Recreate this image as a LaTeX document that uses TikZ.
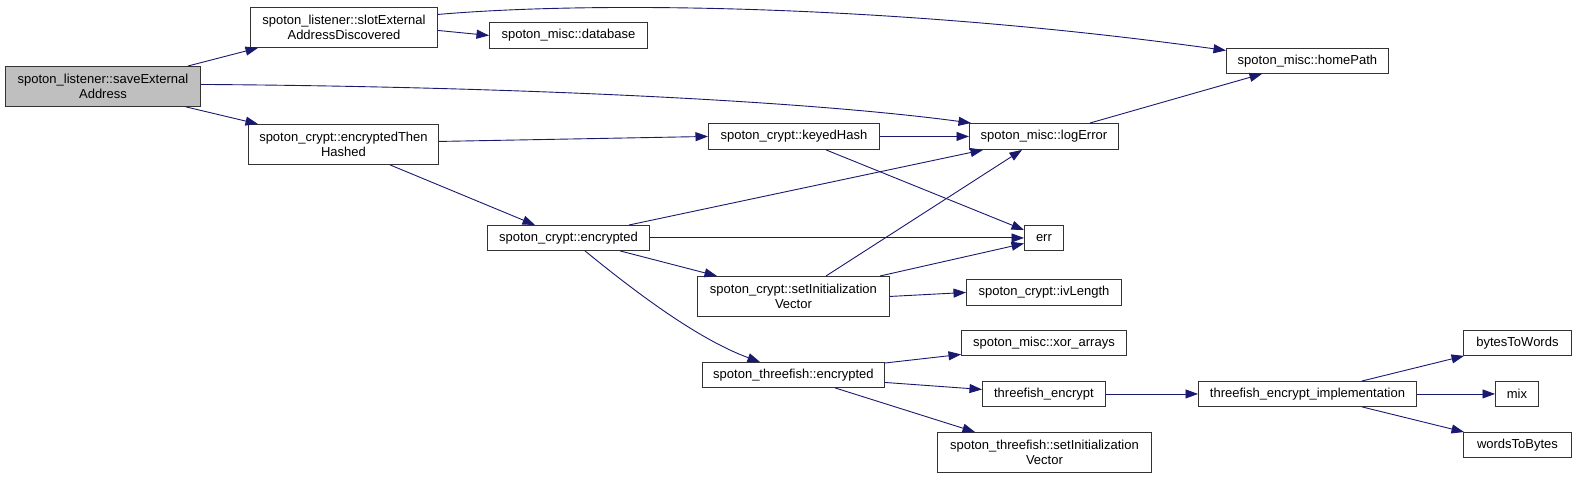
\documentclass[tikz,border=0pt]{standalone}
\usepackage{fontspec}
\setmainfont{Liberation Sans}
\usetikzlibrary{arrows.meta}
\definecolor{edgec}{HTML}{191970}
\definecolor{graybox}{HTML}{BFBFBF}
\begin{document}
\begin{tikzpicture}[x=1pt,y=-1pt,
  box/.style={draw=black!80, line width=0.9pt, inner sep=0pt, anchor=north west, align=center, font=\fontsize{13}{15}\selectfont},
  link/.style={draw=edgec, line width=0.9pt, -{Triangle[length=12.5pt,width=9pt]}}]
\fill[white] (0,0) rectangle (1576,478);
\useasboundingbox (0,0) rectangle (1576,478);
% nodes
\node[box, fill=graybox, minimum width=195pt, minimum height=40pt] (save) at (5,66) {spoton\_listener::saveExternal\\Address};
\node[box, minimum width=187pt, minimum height=40pt] (slot) at (250,7) {spoton\_listener::slotExternal\\AddressDiscovered};
\node[box, minimum width=190pt, minimum height=40pt] (eth) at (248,124) {spoton\_crypt::encryptedThen\\Hashed};
\node[box, minimum width=158pt, minimum height=26pt] (db) at (489,22) {spoton\_misc::database};
\node[box, minimum width=171pt, minimum height=26pt] (kh) at (708,123) {spoton\_crypt::keyedHash};
\node[box, minimum width=162pt, minimum height=25pt] (home) at (1226,48) {spoton\_misc::homePath};
\node[box, minimum width=149pt, minimum height=26pt] (log) at (969,123) {spoton\_misc::logError};
\node[box, minimum width=162pt, minimum height=25pt] (enc) at (487,225) {spoton\_crypt::encrypted};
\node[box, minimum width=192pt, minimum height=40pt] (siv) at (697,276) {spoton\_crypt::setInitialization\\Vector};
\node[box, minimum width=39pt, minimum height=25pt] (err) at (1024,225) {err};
\node[box, minimum width=155pt, minimum height=26pt] (ivl) at (966,279) {spoton\_crypt::ivLength};
\node[box, minimum width=182pt, minimum height=25pt] (tf) at (702,362) {spoton\_threefish::encrypted};
\node[box, minimum width=165pt, minimum height=25pt] (xor) at (961,330) {spoton\_misc::xor\_arrays};
\node[box, minimum width=123pt, minimum height=25pt] (tfe) at (982,381) {threefish\_encrypt};
\node[box, minimum width=214pt, minimum height=40pt] (tfs) at (937,432) {spoton\_threefish::setInitialization\\Vector};
\node[box, minimum width=218pt, minimum height=25pt] (impl) at (1198,381) {threefish\_encrypt\_implementation};
\node[box, minimum width=108pt, minimum height=25pt] (btw) at (1463,330) {bytesToWords};
\node[box, minimum width=43pt, minimum height=25pt] (mix) at (1495,381) {mix};
\node[box, minimum width=108pt, minimum height=25pt] (wtb) at (1463,432) {wordsToBytes};
% edges
\draw[link] ([xshift=183pt]save.north west) -- ([xshift=8pt]slot.south west);
\draw[link] ([yshift=2pt]save.east) .. controls +(300,2) and +(-171,-23) .. ([xshift=2pt]log.north west);
\draw[link] ([xshift=181pt]save.south west) -- ([xshift=10pt]eth.north west);
\draw[link] ([yshift=-3pt]slot.east) -- (db.west);
\draw[link] ([yshift=13pt]slot.east) .. controls +(163,-14) and +(-326,-45) .. ([yshift=10.5pt]home.west);
\draw[link] ([yshift=3pt]eth.east) -- (kh.west);
\draw[link] ([xshift=142pt]eth.south west) -- ([xshift=48pt]enc.north west);
\draw[link] (kh.east) -- (log.west);
\draw[link] ([xshift=118pt]kh.south west) -- ([yshift=-5pt]err.north west);
\draw[link] ([xshift=121pt]log.north west) -- ([xshift=36pt]home.south west);
\draw[link] ([xshift=142pt]enc.north west) -- ([xshift=14pt]log.south west);
\draw[link] (enc.east) -- (err.west);
\draw[link] ([xshift=133pt]enc.south west) -- ([xshift=20pt]siv.north west);
\draw[link] ([xshift=98pt]enc.south west) .. controls +(55,45) and +(-60,-22) .. ([xshift=58pt]tf.north west);
\draw[link] ([xshift=129pt]siv.north west) -- ([xshift=53pt]log.south west);
\draw[link] ([xshift=183pt]siv.north west) -- ([yshift=-5.5pt]err.west);
\draw[link] (siv.east) -- (ivl.west);
\draw[link] ([yshift=-1pt]tf.north east) -- ([yshift=1.5pt]xor.south west);
\draw[link] ([yshift=-7.5pt]tf.east) -- ([yshift=4.5pt]tfe.west);
\draw[link] ([xshift=133pt]tf.south west) -- ([xshift=38pt]tfs.north west);
\draw[link] (tfe.east) -- (impl.west);
\draw[link] ([xshift=164pt]impl.north west) -- ([xshift=1pt]btw.south west);
\draw[link] (impl.east) -- (mix.west);
\draw[link] ([xshift=164pt]impl.south west) -- ([xshift=1pt]wtb.north west);
\end{tikzpicture}
\end{document}
